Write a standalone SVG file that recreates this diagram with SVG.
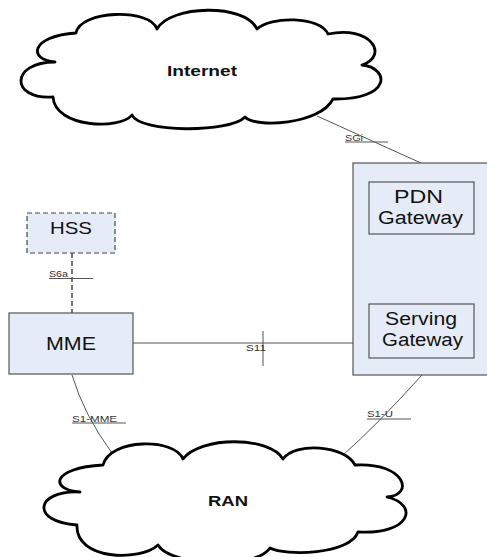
<svg xmlns="http://www.w3.org/2000/svg" width="487" height="557" viewBox="0 0 487 557">
  <defs>
    <style>
      .cloud { fill: #ffffff; stroke: #000000; stroke-width: 2.8; stroke-linejoin: round; }
      .cloud-text { font-family: "Liberation Sans", Arial, sans-serif; font-weight: bold; font-size: 15.5px; fill: #111111; }
      .box { fill: #e6ecf7; stroke: #555555; stroke-width: 1.2; }
      .box-dash { fill: #e6ecf7; stroke: #444444; stroke-width: 1.2; stroke-dasharray: 5 3; }
      .node-text { font-family: "Liberation Sans", Arial, sans-serif; font-size: 18px; fill: #111111; }
      .link { fill: none; stroke: #555555; stroke-width: 1; }
      .link-dash { fill: none; stroke: #222222; stroke-width: 1.2; stroke-dasharray: 5 3; }
      .label { font-family: "Liberation Sans", Arial, sans-serif; font-size: 8.5px; fill: #333333; }
      .uline { stroke: #555555; stroke-width: 1; }
    </style>
  </defs>

  <rect width="487" height="557" fill="#ffffff"/>

  <!-- interfaces between the network elements -->
  <g id="connectors">
    <!-- SGi -->
    <line class="link" x1="317" y1="116" x2="421" y2="163"/>
    <line class="uline" x1="345" y1="142" x2="388" y2="142"/>
    <text class="label" x="345" y="141" textLength="18" lengthAdjust="spacingAndGlyphs">SGi</text>
    <!-- S6a -->
    <line class="link-dash" x1="72" y1="253" x2="72" y2="313"/>
    <line class="uline" x1="49" y1="278.5" x2="93" y2="278.5"/>
    <text class="label" x="49" y="277" textLength="19" lengthAdjust="spacingAndGlyphs">S6a</text>
    <!-- S11 -->
    <line class="link" x1="133" y1="343" x2="353" y2="343"/>
    <line class="uline" x1="263" y1="331" x2="263" y2="366"/>
    <text class="label" x="246" y="351" textLength="20" lengthAdjust="spacingAndGlyphs">S11</text>
    <!-- PDN GW to Serving GW -->
    <line class="link" x1="422" y1="234" x2="422" y2="304"/>
    <line stroke="#333333" stroke-width="1.8" x1="422" y1="268" x2="422" y2="278"/>
    <!-- S1-MME -->
    <path class="link" d="M72 375 Q84 415 112 453"/>
    <line class="uline" x1="72" y1="423" x2="126" y2="423"/>
    <text class="label" x="72" y="421.5" textLength="45" lengthAdjust="spacingAndGlyphs">S1-MME</text>
    <!-- S1-U -->
    <path class="link" d="M422 375 Q376 426 343 455"/>
    <line class="uline" x1="367" y1="419" x2="411" y2="419"/>
    <text class="label" x="367" y="417" textLength="26" lengthAdjust="spacingAndGlyphs">S1-U</text>
  </g>

  <g id="internet">
    <path class="cloud" d="M55 62 C28 60 30 36 76 33 C80 10 150 8 157 29 C170 5 245 3 257 29 C270 16 320 16 328 34 C370 25 390 55 362 65 C390 68 392 100 333 99 C320 125 255 128 245 117 C230 133 140 133 132 115 C120 130 55 128 53 97 C10 100 10 62 55 62 Z"/>
    <text class="cloud-text" x="167" y="76" textLength="70" lengthAdjust="spacingAndGlyphs">Internet</text>
  </g>

  <g id="gateway-host">
    <rect class="box" x="353" y="163" width="150" height="212"/>
  </g>

  <g id="pdn-gateway">
    <rect class="box" x="369" y="182" width="105" height="52"/>
    <text class="node-text" x="394" y="203" textLength="49" lengthAdjust="spacingAndGlyphs">PDN</text>
    <text class="node-text" x="378" y="224" textLength="85" lengthAdjust="spacingAndGlyphs">Gateway</text>
  </g>

  <g id="serving-gateway">
    <rect class="box" x="369" y="304" width="105" height="54"/>
    <text class="node-text" x="385" y="325" textLength="72" lengthAdjust="spacingAndGlyphs">Serving</text>
    <text class="node-text" x="382" y="346" textLength="81" lengthAdjust="spacingAndGlyphs">Gateway</text>
  </g>

  <g id="hss">
    <rect class="box-dash" x="27" y="213" width="88" height="40"/>
    <text class="node-text" x="50" y="234" style="font-size:17px" textLength="42" lengthAdjust="spacingAndGlyphs">HSS</text>
  </g>

  <g id="mme">
    <rect class="box" x="9" y="313" width="124" height="61"/>
    <text class="node-text" x="46" y="350" style="font-size:18.5px" textLength="50" lengthAdjust="spacingAndGlyphs">MME</text>
  </g>

  <g id="ran">
    <path class="cloud" d="M80 492 C50 490 50 468 103 465 C110 438 175 438 183 459 C200 436 270 436 283 459 C295 442 345 445 355 465 C405 462 415 495 387 497 C420 505 410 535 358 532 C350 555 285 556 270 548 C255 570 170 566 158 545 C140 562 75 560 77 525 C30 522 35 490 80 492 Z"/>
    <text class="cloud-text" x="208" y="506" textLength="40" lengthAdjust="spacingAndGlyphs">RAN</text>
  </g>
</svg>
